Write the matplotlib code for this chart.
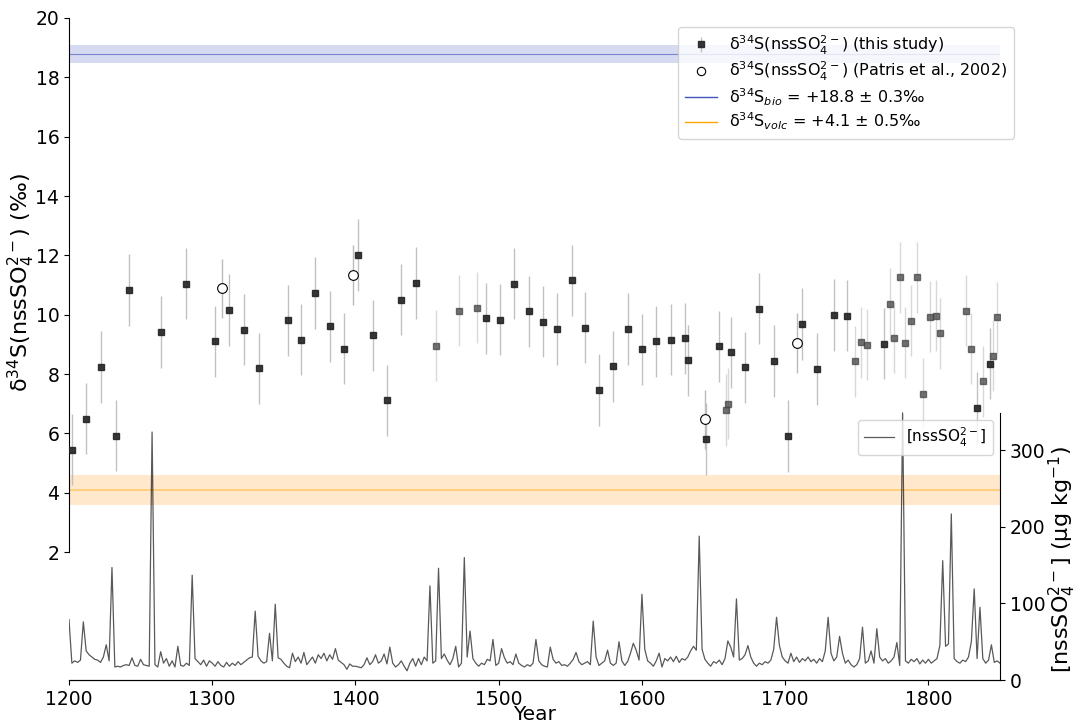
import numpy as np
import matplotlib
matplotlib.use('Agg')
import matplotlib.pyplot as plt
from matplotlib.lines import Line2D

# d34S of nss sulfate, this study (year, permil); faint = lighter markers
d34s_year = [1202, 1212, 1222, 1233, 1242, 1264, 1282, 1302, 1312, 1322,
             1333, 1353, 1362, 1372, 1382, 1392, 1402, 1412, 1422, 1432,
             1442, 1456, 1472, 1485, 1491, 1501, 1511, 1521, 1531, 1541,
             1551, 1560, 1570, 1580, 1590, 1600, 1610, 1620, 1630, 1632,
             1645, 1654, 1658.5, 1660, 1662, 1672, 1682, 1692, 1702, 1712,
             1722, 1734, 1743, 1749, 1753, 1757, 1769, 1773, 1776, 1780,
             1784, 1788, 1792, 1796, 1801, 1805, 1808, 1826, 1830, 1834,
             1838, 1843, 1845, 1848]
d34s_val = [5.45, 6.49, 8.24, 5.92, 10.83, 9.42, 11.04, 9.11, 10.16, 9.50,
            8.20, 9.81, 9.16, 10.73, 9.61, 8.85, 12.01, 9.30, 7.12, 10.50,
            11.07, 8.95, 10.13, 10.24, 9.88, 9.83, 11.04, 10.12, 9.77, 9.52,
            11.16, 9.56, 7.46, 8.26, 9.52, 8.84, 9.11, 9.16, 9.20, 8.47,
            5.81, 8.93, 6.79, 7.00, 8.73, 8.23, 10.20, 8.44, 5.91, 9.69,
            8.17, 9.99, 9.97, 8.43, 9.07, 8.99, 9.03, 10.36, 9.22, 11.26,
            9.06, 9.80, 11.26, 7.34, 9.93, 9.97, 9.37, 10.13, 8.86, 6.86,
            7.75, 8.35, 8.62, 9.91]
d34s_err = 1.2
faint = [False] * 21 + [True] * 3 + [False] * 18 + [True, True] + \
        [False] * 9 + [True] * 3 + [False] + [True] * 12 + [False, True, False, True, True]

# Patris et al., 2002
patris_year = [1307, 1398, 1644, 1708]
patris_val = [10.89, 11.34, 6.47, 9.05]
patris_err = 1.0

# end-member values
bio_val, bio_err = 18.8, 0.3
volc_val, volc_err = 4.1, 0.5

# nss sulfate concentration (ug/kg), every 2 years from 1200 to 1850
nss = [
    79, 22, 25, 23, 26,    76, 38, 33, 30, 27,    26, 23, 30, 46, 25,
    147, 17, 18, 17, 19,   20, 19, 29, 19, 18,    27, 20, 19, 18, 324,
    20, 17, 37, 22, 28,    18, 25, 17, 44, 19,    18, 22, 19, 137, 28,
    24, 20, 26, 18, 25,    22, 18, 24, 19, 17,    23, 18, 22, 19, 24,
    20, 23, 26, 29, 30,    90, 31, 25, 22, 24,    61, 25, 99, 29, 27,
    22, 18, 16, 35, 24,    30, 22, 36, 20, 25,    30, 22, 33, 28, 35,
    25, 33, 27, 41, 26,    23, 20, 14, 21, 18,    18, 17, 16, 20, 29,
    20, 24, 33, 22, 25,    34, 21, 43, 22, 17,    20, 25, 18, 12, 22,
    28, 18, 28, 20, 30,    25, 123, 22, 25, 146,  28, 34, 26, 20, 28,
    44, 17, 22, 160, 30,   64, 28, 22, 18, 22,    20, 27, 25, 53, 19,
    22, 41, 29, 22, 24,    20, 34, 22, 19, 17,    20, 18, 22, 53, 25,
    20, 18, 17, 43, 27,    22, 24, 19, 20, 18,    22, 27, 36, 24, 20,
    22, 24, 20, 77, 30,    19, 22, 25, 39, 22,    19, 22, 50, 25, 19,
    24, 35, 48, 39, 26,    112, 40, 25, 22, 18,  25, 35, 17, 28, 25,
    30, 24, 31, 23, 28,    26, 30, 38, 44, 39,    188, 40, 27, 22, 18,
    24, 22, 26, 20, 28,    51, 43, 30, 106, 26,   28, 33, 45, 30, 22,
    18, 22, 20, 24, 22,    26, 40, 82, 45, 30,    25, 22, 35, 24, 30,
    23, 28, 25, 30, 24,    27, 22, 28, 24, 38,    82, 35, 25, 30, 57,
    35, 22, 26, 20, 17,    20, 28, 69, 22, 25,    38, 22, 67, 30, 25,
    28, 22, 25, 30, 49,    19, 349, 25, 22, 27,   24, 28, 21, 26, 22,
    27, 22, 25, 28, 45,    156, 44, 47, 217, 28,  24, 22, 26, 24, 30,
    50, 119, 28, 95, 28,   22, 26, 46, 23, 25,    22,
]
nss_year = np.arange(1200, 1851, 2)

fig = plt.figure(figsize=(10.83, 7.23), dpi=100)
ax = fig.add_axes([69 / 1083, 1 - 680 / 723, 931 / 1083, 662 / 723])

x = np.array(d34s_year)
y = np.array(d34s_val)
f = np.array(faint)
dark = ax.errorbar(x[~f], y[~f], yerr=d34s_err, fmt='s', ms=4.5, color='#222222',
                   ecolor='#bbbbbb', elinewidth=1, alpha=0.9, zorder=3)
ax.errorbar(x[f], y[f], yerr=d34s_err, fmt='s', ms=4.5, color='#444444',
            ecolor='#cccccc', elinewidth=1, alpha=0.75, zorder=3)
ax.errorbar(patris_year, patris_val, yerr=patris_err, fmt='none',
            ecolor='#bbbbbb', elinewidth=1, zorder=3)
ax.plot(patris_year, patris_val, 'o', ms=7, mfc='white', mec='black',
        mew=0.8, zorder=4)

ax.axhline(bio_val, color='#5060c0', lw=0.8, alpha=0.7)
ax.axhspan(bio_val - bio_err, bio_val + bio_err, color='#3a4cc0', alpha=0.2, lw=0)
ax.axhline(volc_val, color='orange', lw=1.2, alpha=0.45)
ax.axhspan(volc_val - volc_err, volc_val + volc_err, color='darkorange', alpha=0.2, lw=0)

ax.set_xlim(1200, 1850)
ax.set_ylim(-2.31, 20)
ax.set_yticks(range(2, 21, 2))
ax.spines['left'].set_bounds(2, 20)
ax.spines['top'].set_visible(False)
ax.spines['right'].set_visible(False)
ax.tick_params(labelsize=13.5)
ax.set_xlabel('Year', fontsize=14.5, labelpad=-3)
ax.set_ylabel('δ$^{34}$S(nssSO$_4^{2-}$) (‰)', fontsize=16)
ax.yaxis.set_label_coords(-0.034, (680 - 283) / 662)

handles = [dark,
           Line2D([], [], ls='none', marker='o', ms=6, mfc='white', mec='black', mew=0.8),
           Line2D([], [], color='#4055c0', lw=1),
           Line2D([], [], color='orange', lw=1)]
labels = ['δ$^{34}$S(nssSO$_4^{2-}$) (this study)',
          'δ$^{34}$S(nssSO$_4^{2-}$) (Patris et al., 2002)',
          'δ$^{34}$S$_{bio}$ = +18.8 ± 0.3‰',
          'δ$^{34}$S$_{volc}$ = +4.1 ± 0.5‰']
ax.legend(handles, labels, loc='upper right', fontsize=11.5, labelspacing=0.2,
          borderaxespad=0, bbox_to_anchor=(1014 / 1083, 1 - 27 / 723),
          bbox_transform=fig.transFigure)

ax2 = ax.twinx()
ax2.plot(nss_year, nss, color='black', lw=0.9, alpha=0.65,
         label='[nssSO$_4^{2-}$]')
ax2.set_ylim(0, 865)
ax2.set_yticks([0, 100, 200, 300])
ax2.spines['right'].set_bounds(0, max(nss))
ax2.spines['top'].set_visible(False)
ax2.spines['left'].set_visible(False)
ax2.tick_params(labelsize=13.5)
ax2.set_ylabel('[nssSO$_4^{2-}$] (μg kg$^{-1}$)', fontsize=16)
ax2.yaxis.set_label_coords(1.05, (680 - 560) / 662)
ax2.legend(loc='upper right', fontsize=11, borderaxespad=0,
           bbox_to_anchor=(993 / 1083, 1 - 420 / 723), bbox_transform=fig.transFigure)

fig.savefig('out.png', dpi=100)
